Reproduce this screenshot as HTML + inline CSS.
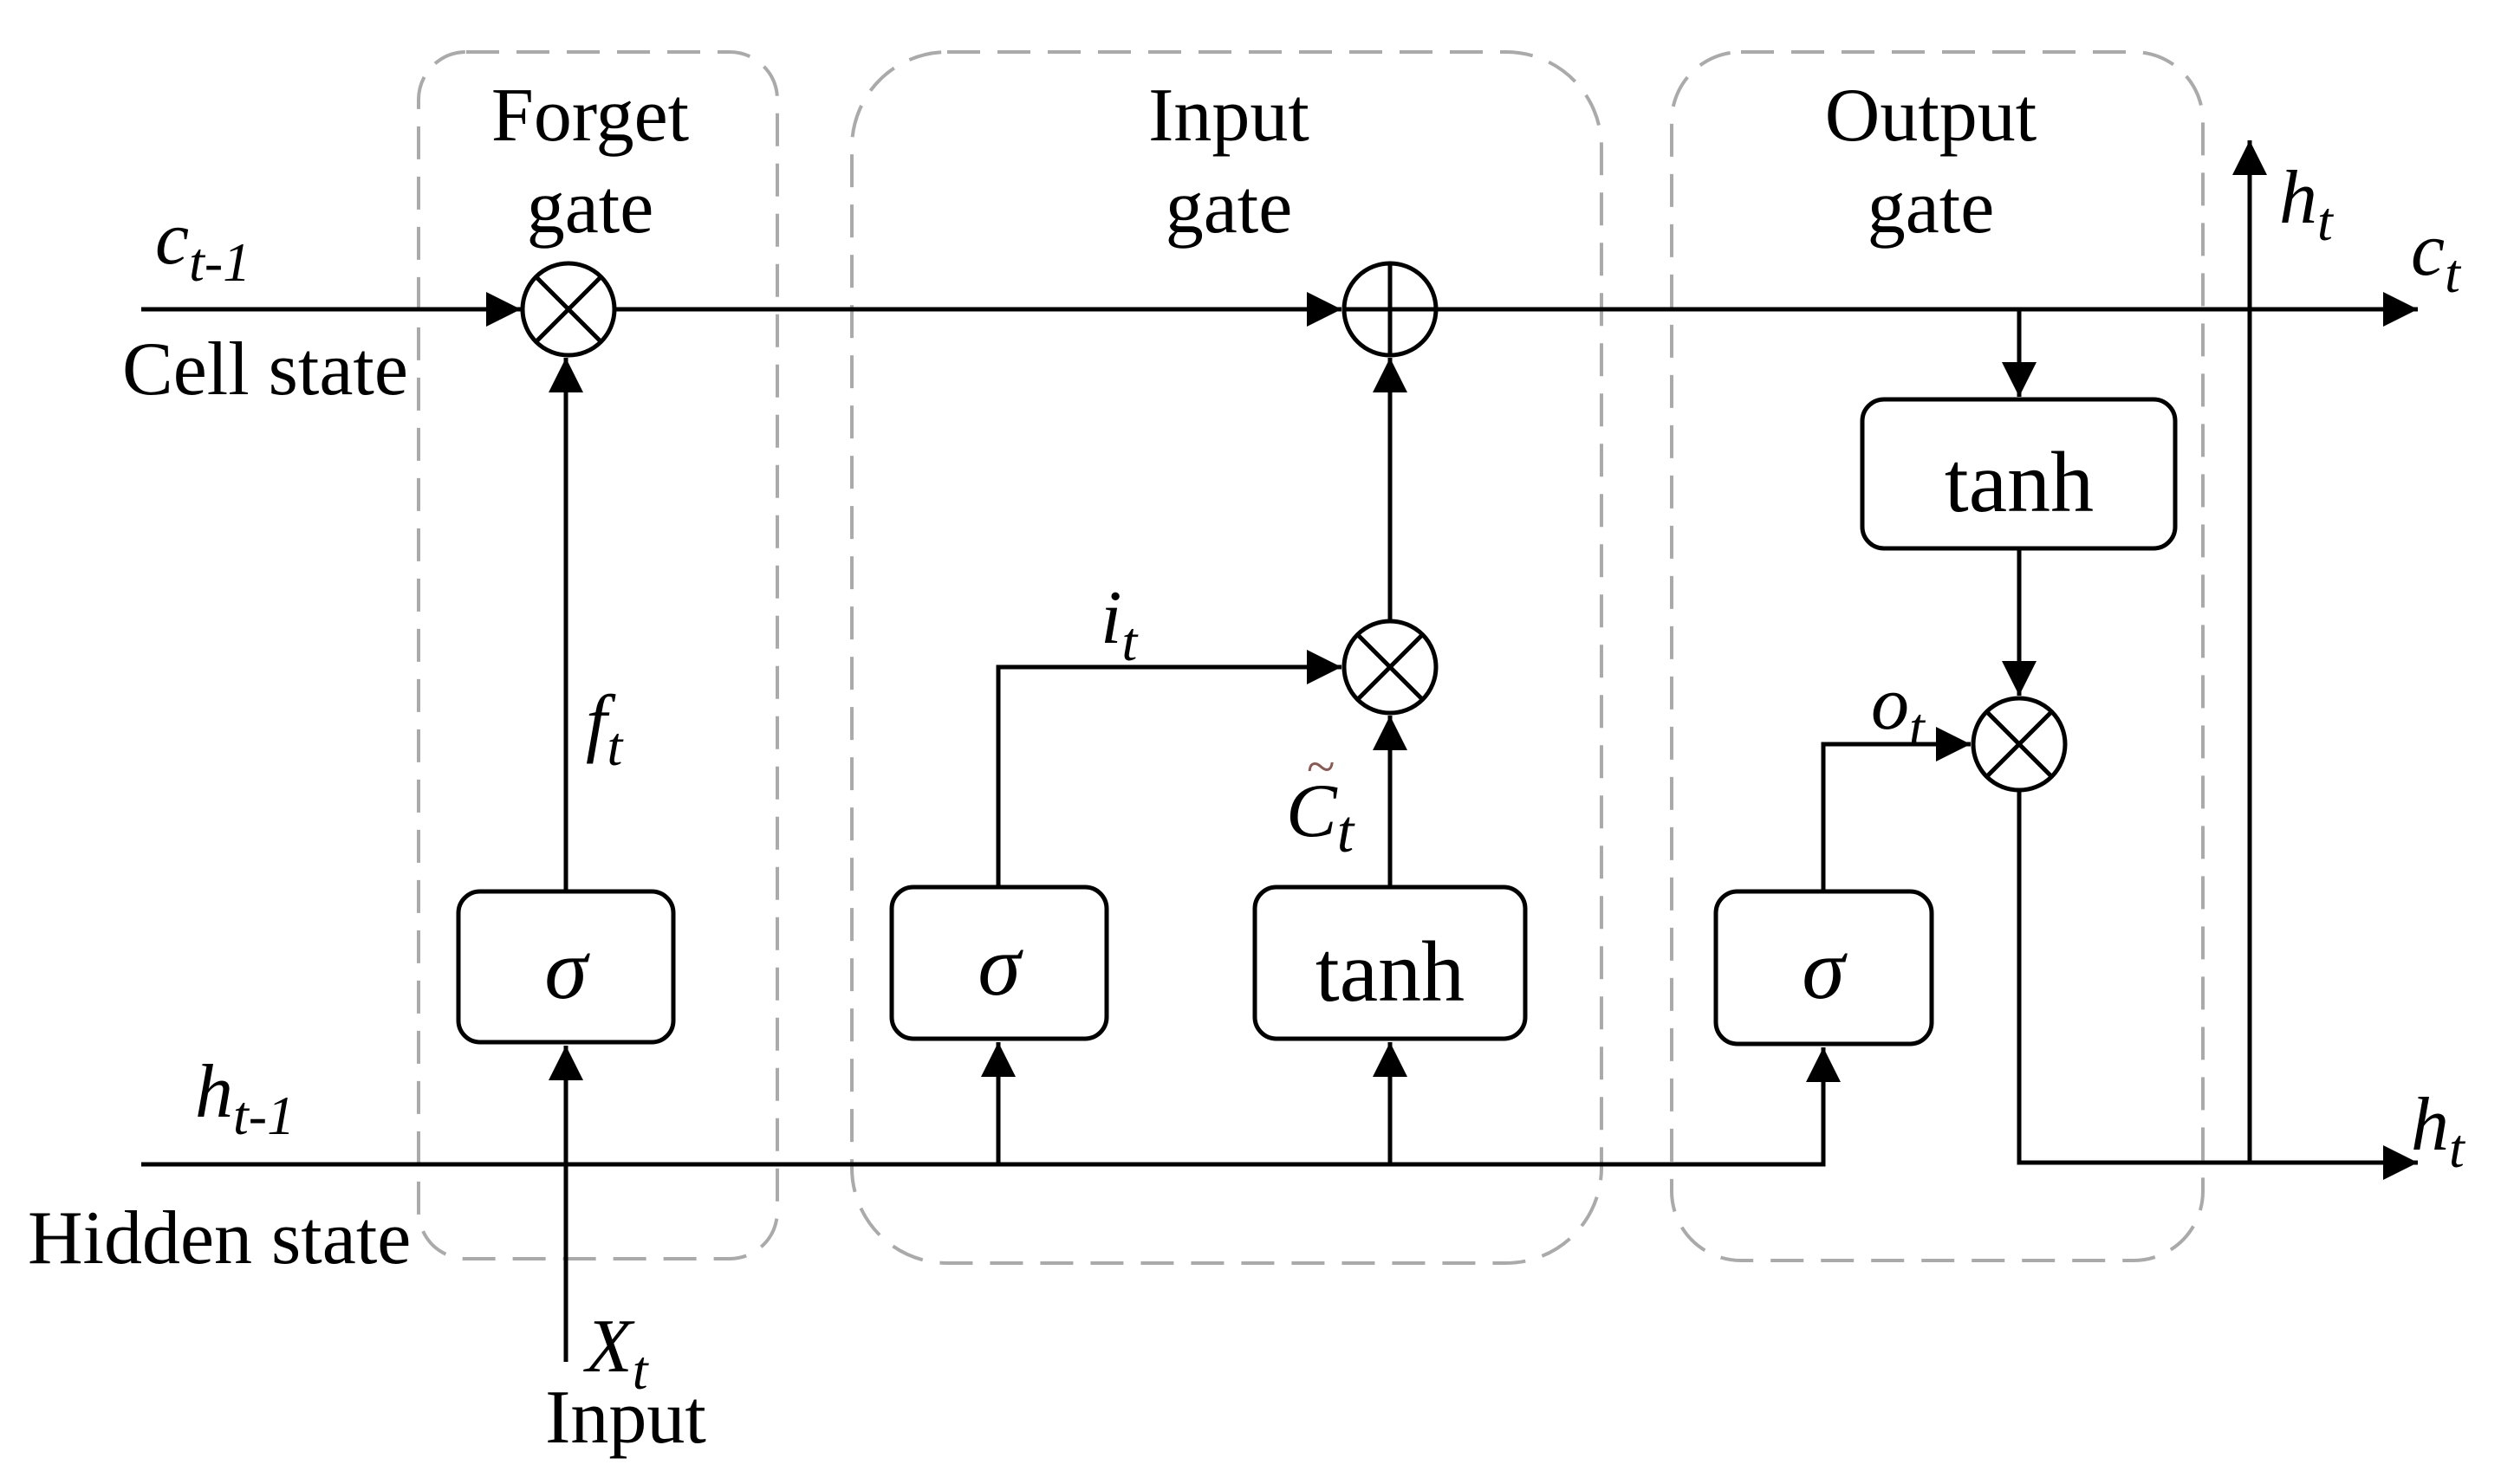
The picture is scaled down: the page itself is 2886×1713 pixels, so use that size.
<!DOCTYPE html>
<html><head><meta charset="utf-8"><style>
html,body{margin:0;padding:0;background:#fff}
svg{display:block}
text{font-family:"Liberation Serif","DejaVu Serif",serif;fill:#000}
.lb{font-size:88px}
.it{font-style:italic}
.bx{font-size:100px}
</style></head><body>
<svg width="2886" height="1713" viewBox="0 0 2886 1713" xmlns="http://www.w3.org/2000/svg">
<defs>
<marker id="a" viewBox="0 0 10 10" refX="10" refY="5" markerWidth="8" markerHeight="8" markerUnits="strokeWidth" orient="auto"><path d="M0,0L10,5L0,10z" fill="#000"/></marker>
</defs>
<g fill="none" stroke="#aaa" stroke-width="4" stroke-dasharray="38,20">
<rect x="483" y="60" width="414" height="1393" rx="55"/>
<rect x="983" y="60" width="865" height="1398" rx="110"/>
<rect x="1929" y="60" width="613" height="1395" rx="80"/>
</g>
<g fill="none" stroke="#000" stroke-width="5">
<line x1="163" y1="357" x2="601" y2="357" marker-end="url(#a)"/>
<line x1="710" y1="357" x2="1548" y2="357" marker-end="url(#a)"/>
<line x1="1657" y1="357" x2="2790" y2="357" marker-end="url(#a)"/>
<polyline points="163,1344 2104,1344 2104,1209" marker-end="url(#a)"/>
<line x1="1152" y1="1344" x2="1152" y2="1203" marker-end="url(#a)"/>
<line x1="1604" y1="1344" x2="1604" y2="1203" marker-end="url(#a)"/>
<line x1="653" y1="1572" x2="653" y2="1207" marker-end="url(#a)"/>
<line x1="653" y1="1029" x2="653" y2="413" marker-end="url(#a)"/>
<polyline points="1152,1024 1152,770 1548,770" marker-end="url(#a)"/>
<line x1="1604" y1="1024" x2="1604" y2="826" marker-end="url(#a)"/>
<line x1="1604" y1="717" x2="1604" y2="413" marker-end="url(#a)"/>
<polyline points="2104,1029 2104,859 2274,859" marker-end="url(#a)"/>
<line x1="2330" y1="357" x2="2330" y2="458" marker-end="url(#a)"/>
<line x1="2330" y1="633" x2="2330" y2="803" marker-end="url(#a)"/>
<polyline points="2330,912 2330,1342 2790,1342" marker-end="url(#a)"/>
<line x1="2596" y1="1342" x2="2596" y2="162" marker-end="url(#a)"/>
<rect x="529" y="1029" width="248" height="174" rx="25"/>
<rect x="1029" y="1024" width="248" height="175" rx="25"/>
<rect x="1448" y="1024" width="312" height="175" rx="25"/>
<rect x="1980" y="1029" width="249" height="176" rx="25"/>
<rect x="2149" y="461" width="361" height="172" rx="25"/>
<circle cx="656" cy="357" r="53"/>
<path d="M618.5,319.5L693.5,394.5M693.5,319.5L618.5,394.5"/>
<circle cx="1604" cy="357" r="53"/>
<path d="M1604,304V410M1551,357H1657"/>
<circle cx="1604" cy="770" r="53"/>
<path d="M1566.5,732.5L1641.5,807.5M1641.5,732.5L1566.5,807.5"/>
<circle cx="2330" cy="859" r="53"/>
<path d="M2292.5,821.5L2367.5,896.5M2367.5,821.5L2292.5,896.5"/>
</g>
<g class="lb">
<text x="681" y="162" text-anchor="middle">Forget</text>
<text x="681" y="268" text-anchor="middle">gate</text>
<text x="1418" y="162" text-anchor="middle">Input</text>
<text x="1418" y="268" text-anchor="middle">gate</text>
<text x="2228" y="162" text-anchor="middle">Output</text>
<text x="2228" y="268" text-anchor="middle">gate</text>
<text x="141" y="455">Cell state</text>
<text x="32" y="1458">Hidden state</text>
<text x="722" y="1665" text-anchor="middle">Input</text>
<text x="1604" y="1155" text-anchor="middle" class="bx">tanh</text>
<text x="2330" y="590" text-anchor="middle" class="bx">tanh</text>
<text x="653" y="1152" text-anchor="middle" class="it bx">σ</text>
<text x="1153" y="1148" text-anchor="middle" class="it bx">σ</text>
<text x="2104" y="1152" text-anchor="middle" class="it bx">σ</text>
<text x="179" y="304" class="it">c<tspan font-size="64" dy="20">t-1</tspan></text>
<text x="225" y="1289" class="it">h<tspan font-size="64" dy="20">t-1</tspan></text>
<text x="676" y="1583" class="it">X<tspan font-size="64" dy="20">t</tspan></text>
<text x="676" y="863" class="it">f<tspan font-size="64" dy="20">t</tspan></text>
<text x="1270" y="742" class="it">i<tspan font-size="64" dy="20">t</tspan></text>
<text x="2159" y="841" class="it">o<tspan font-size="64" dy="20">t</tspan></text>
<text x="2630" y="257" class="it">h<tspan font-size="64" dy="20">t</tspan></text>
<text x="2782" y="317" class="it">c<tspan font-size="64" dy="20">t</tspan></text>
<text x="2782" y="1327" class="it">h<tspan font-size="64" dy="20">t</tspan></text>
<text x="1484" y="965" class="it">C<tspan font-size="70" dy="18">t</tspan></text>
</g>
<text x="1508" y="905" font-size="60" style="fill:#8b5a55">~</text>
</svg>
</body></html>
